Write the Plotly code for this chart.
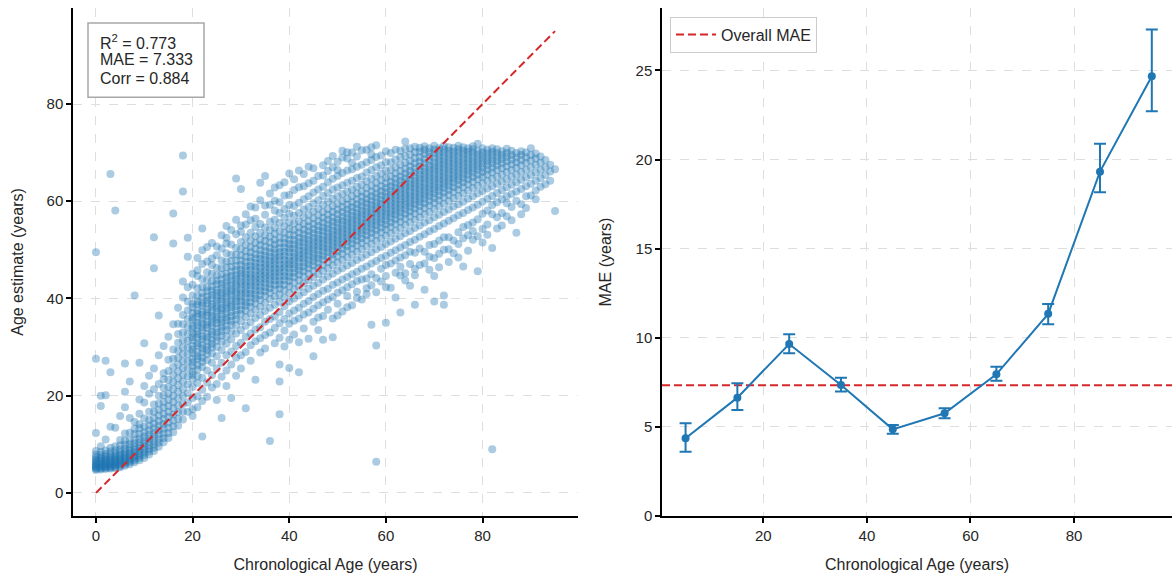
import plotly.graph_objects as go

# ---------------------------------------------------------------
# Left panel: per-sample estimates, grouped by chronological age
# ---------------------------------------------------------------
sample_ages = [
    0, 1, 2, 3, 4, 5, 6, 7, 8, 9,
    10, 11, 12, 13, 14, 15, 16, 17, 18, 19,
    20, 21, 22, 23, 24, 25, 26, 27, 28, 29,
    30, 31, 32, 33, 34, 35, 36, 37, 38, 39,
    40, 41, 42, 43, 44, 45, 46, 47, 48, 49,
    50, 51, 52, 53, 54, 55, 56, 57, 58, 59,
    60, 61, 62, 63, 64, 65, 66, 67, 68, 69,
    70, 71, 72, 73, 74, 75, 76, 77, 78, 79,
    80, 81, 82, 83, 84, 85, 86, 87, 88, 89,
    90, 91, 92, 93, 94, 95,
]

age_estimates = [
    [4.7, 4.9, 5.1, 5.3, 5.5, 5.7, 5.9, 6.1, 6.4, 6.7, 7.0, 7.4, 7.9, 8.6, 12.3, 27.6, 49.5],
    [4.8, 5.0, 5.2, 5.4, 5.6, 5.8, 6.0, 6.3, 6.6, 6.9, 7.3, 7.8, 8.4, 9.6, 17.9, 20.0],
    [4.9, 5.1, 5.3, 5.5, 5.7, 6.0, 6.2, 6.5, 6.8, 7.1, 7.5, 8.0, 8.7, 11.0, 20.1, 27.2],
    [5.0, 5.2, 5.4, 5.6, 5.9, 6.1, 6.4, 6.7, 7.0, 7.4, 7.9, 8.5, 9.3, 13.6, 24.8, 65.6],
    [5.1, 5.3, 5.6, 5.8, 6.0, 6.3, 6.6, 6.9, 7.2, 7.6, 8.1, 8.7, 9.6, 13.4, 58.1],
    [5.3, 5.5, 5.8, 6.1, 6.4, 6.7, 7.0, 7.4, 7.8, 8.3, 8.9, 9.8, 10.9, 15.8],
    [5.6, 5.9, 6.2, 6.5, 6.9, 7.2, 7.6, 8.0, 8.5, 9.1, 9.9, 10.8, 12.2, 17.6, 20.8, 26.6],
    [5.9, 6.3, 6.6, 7.0, 7.4, 7.8, 8.2, 8.7, 9.3, 10.0, 10.9, 12.4, 15.4, 22.9],
    [6.3, 6.7, 7.1, 7.5, 7.9, 8.4, 8.9, 9.5, 10.2, 11.0, 12.1, 13.2, 14.6, 40.6],
    [6.7, 7.2, 7.6, 8.1, 8.6, 9.1, 9.7, 10.4, 11.2, 12.1, 13.3, 14.1, 16.3, 19.2, 26.8],
    [7.2, 7.8, 8.3, 8.9, 9.5, 10.1, 10.8, 11.6, 12.5, 13.6, 15.3, 18.6, 22.0, 30.8],
    [7.9, 8.5, 9.1, 9.8, 10.5, 11.2, 12.0, 12.9, 13.9, 15.0, 16.7, 20.4, 24.1],
    [8.6, 9.3, 10.0, 10.8, 11.6, 12.4, 13.3, 14.3, 15.4, 16.7, 18.2, 21.3, 25.6, 46.2, 52.6],
    [9.5, 10.3, 11.1, 12.0, 12.9, 13.8, 14.8, 15.9, 17.1, 18.4, 20.0, 22.4, 28.3, 36.5],
    [10.4, 11.3, 12.2, 13.2, 14.2, 15.2, 16.3, 17.5, 18.7, 20.1, 21.6, 23.4, 24.6, 30.2],
    [11.3, 12.3, 13.4, 14.5, 15.6, 16.7, 17.9, 19.1, 20.4, 21.8, 23.3, 25.1, 27.4, 32.1],
    [12.5, 13.7, 14.9, 16.1, 17.4, 18.7, 20.0, 21.4, 22.8, 24.3, 25.9, 27.6, 29.5, 34.7, 51.3, 57.5],
    [13.8, 15.2, 16.6, 18.0, 19.4, 20.8, 22.2, 23.6, 25.0, 26.4, 27.8, 29.3, 30.9, 32.7, 34.8, 38.1],
    [15.1, 16.7, 18.3, 19.9, 21.4, 22.9, 24.3, 25.7, 27.1, 28.5, 29.9, 31.4, 33.0, 34.7, 36.6, 40.2, 43.5, 62.0, 69.4],
    [16.7, 18.6, 20.5, 22.3, 24.0, 25.6, 27.1, 28.5, 29.9, 31.3, 32.7, 34.2, 35.8, 37.5, 39.4, 42.3, 48.6, 52.5],
    [17.2, 19.5, 21.8, 23.4, 24.3, 25.0, 26.1, 26.9, 27.6, 28.8, 29.5, 30.2, 31.4, 32.0, 32.9, 33.8, 34.4, 35.5, 36.1, 37.0, 38.2, 38.9, 40.6, 42.8],
    [19.9, 22.6, 24.0, 25.4, 26.3, 27.5, 28.1, 29.0, 30.3, 30.8, 31.9, 32.7, 33.3, 34.5, 35.0, 36.2, 36.9, 37.6, 38.8, 39.4, 40.5, 42.1, 44.6, 45.8],
    [11.6, 21.2, 23.7, 25.9, 27.0, 27.8, 28.9, 29.7, 30.5, 31.6, 32.2, 33.4, 34.1, 34.9, 35.8, 36.6, 37.3, 38.5, 39.0, 40.2, 41.1, 42.4, 44.0, 47.1, 54.4],
    [22.7, 25.2, 27.3, 28.5, 29.4, 30.1, 31.2, 32.0, 32.8, 33.9, 34.6, 35.3, 36.4, 37.1, 37.8, 38.9, 39.6, 40.4, 41.5, 42.3, 43.8, 45.4, 50.6],
    [24.2, 26.8, 28.7, 29.9, 30.7, 31.5, 32.6, 33.2, 34.3, 35.0, 35.9, 36.5, 37.4, 38.3, 38.9, 40.0, 40.7, 41.6, 42.5, 43.6, 45.1, 46.9, 48.2],
    [25.6, 28.1, 30.0, 31.3, 32.1, 33.0, 33.8, 34.9, 35.6, 36.3, 37.2, 38.0, 38.7, 39.6, 40.3, 41.2, 41.8, 42.9, 43.7, 44.8, 46.3, 48.9],
    [15.4, 26.8, 29.4, 31.1, 32.4, 33.3, 34.2, 35.0, 35.8, 36.7, 37.5, 38.1, 39.0, 39.8, 40.6, 41.3, 42.2, 43.0, 43.9, 45.0, 46.2, 47.8, 50.3],
    [28.3, 30.7, 32.2, 33.5, 34.4, 35.5, 36.1, 37.0, 37.9, 38.6, 39.3, 40.2, 41.0, 41.7, 42.6, 43.4, 44.3, 45.1, 46.4, 47.6, 49.3, 52.5, 54.9],
    [19.5, 29.1, 31.6, 33.2, 34.6, 35.4, 36.4, 37.2, 38.2, 38.8, 39.7, 40.5, 41.4, 42.0, 42.9, 43.7, 44.6, 45.5, 46.5, 47.7, 49.0, 51.1],
    [30.2, 32.8, 34.5, 35.7, 36.6, 37.6, 38.4, 39.3, 40.0, 40.9, 41.6, 42.5, 43.2, 44.1, 44.8, 45.8, 46.7, 47.8, 49.0, 50.4, 53.2, 64.7],
    [30.9, 33.5, 35.3, 36.8, 37.7, 38.6, 39.5, 40.3, 41.1, 41.9, 42.8, 43.5, 44.4, 45.2, 45.9, 46.9, 47.8, 48.9, 50.1, 51.6, 53.7, 62.5],
    [17.4, 32.1, 34.4, 36.2, 37.5, 38.5, 39.2, 40.1, 41.0, 41.7, 42.6, 43.3, 44.2, 44.9, 45.8, 46.6, 47.5, 48.6, 49.7, 51.0, 52.6, 55.2],
    [32.8, 35.1, 36.9, 38.3, 39.2, 40.2, 41.0, 41.8, 42.7, 43.4, 44.3, 45.0, 45.9, 46.7, 47.6, 48.5, 49.5, 50.6, 51.9, 53.5, 56.1],
    [23.3, 33.6, 36.0, 37.7, 39.0, 40.0, 40.8, 41.7, 42.5, 43.3, 44.1, 44.8, 45.7, 46.5, 47.3, 48.2, 49.1, 50.2, 51.4, 52.8, 54.7, 58.7],
    [34.1, 36.6, 38.3, 39.7, 40.7, 41.6, 42.4, 43.3, 44.0, 44.9, 45.6, 46.4, 47.3, 48.1, 49.0, 49.9, 51.0, 52.1, 53.5, 55.3, 63.8],
    [35.2, 37.4, 39.1, 40.5, 41.5, 42.3, 43.2, 44.0, 44.8, 45.5, 46.4, 47.1, 48.0, 48.8, 49.7, 50.7, 51.8, 53.0, 54.6, 57.2, 65.2],
    [10.7, 35.8, 38.1, 39.9, 41.2, 42.1, 43.0, 43.8, 44.6, 45.4, 46.2, 47.0, 47.8, 48.6, 49.5, 50.4, 51.5, 52.7, 54.1, 55.8, 59.3],
    [36.3, 38.7, 40.4, 41.8, 42.8, 43.7, 44.5, 45.3, 46.1, 46.9, 47.7, 48.4, 49.3, 50.1, 51.1, 52.1, 53.3, 54.6, 56.2, 58.1, 60.1],
    [16.2, 22.9, 26.4, 34.9, 37.2, 39.3, 40.8, 42.0, 42.9, 43.7, 44.6, 45.4, 46.2, 47.0, 47.9, 48.7, 49.5, 50.4, 51.4, 52.5, 53.8, 55.5, 57.6, 63.3],
    [35.8, 38.4, 40.2, 41.7, 42.8, 43.8, 44.6, 45.5, 46.3, 47.1, 47.9, 48.8, 49.6, 50.5, 51.4, 52.4, 53.5, 54.9, 56.6, 58.4, 61.2],
    [25.7, 31.5, 36.9, 39.4, 41.1, 42.5, 43.6, 44.5, 45.3, 46.2, 47.0, 47.8, 48.6, 49.5, 50.3, 51.2, 52.1, 53.1, 54.3, 55.7, 57.4, 59.2, 65.7],
    [37.5, 40.0, 41.9, 43.3, 44.4, 45.3, 46.2, 47.0, 47.8, 48.6, 49.4, 50.3, 51.1, 52.0, 53.0, 54.1, 55.4, 57.0, 59.0, 62.3],
    [24.8, 31.0, 38.1, 40.6, 42.4, 43.8, 44.9, 45.8, 46.6, 47.5, 48.3, 49.1, 49.9, 50.8, 51.6, 52.5, 53.5, 54.6, 55.9, 57.6, 59.7, 66.3],
    [38.9, 41.3, 43.1, 44.5, 45.6, 46.5, 47.4, 48.2, 49.0, 49.8, 50.6, 51.5, 52.3, 53.2, 54.2, 55.3, 56.7, 58.3, 60.4, 63.1],
    [31.7, 39.5, 42.0, 43.8, 45.1, 46.2, 47.1, 47.9, 48.8, 49.6, 50.4, 51.2, 52.0, 52.9, 53.8, 54.8, 55.9, 57.2, 58.8, 61.0, 67.1],
    [28.1, 40.3, 42.6, 44.4, 45.7, 46.8, 47.7, 48.5, 49.3, 50.1, 50.9, 51.7, 52.5, 53.4, 54.3, 55.3, 56.5, 57.9, 59.6, 61.8, 64.2],
    [36.1, 40.9, 43.2, 45.0, 46.3, 47.3, 48.2, 49.0, 49.9, 50.7, 51.5, 52.3, 53.1, 54.0, 54.9, 55.9, 57.1, 58.5, 60.2, 62.4],
    [31.5, 41.6, 43.9, 45.6, 46.9, 48.0, 48.8, 49.7, 50.5, 51.3, 52.1, 52.9, 53.8, 54.6, 55.6, 56.6, 57.8, 59.3, 61.1, 63.0, 65.3],
    [42.0, 44.5, 46.2, 47.5, 48.6, 49.5, 50.3, 51.1, 51.9, 52.7, 53.5, 54.4, 55.2, 56.2, 57.2, 58.4, 59.9, 61.7, 63.9, 66.2],
    [32.0, 42.8, 45.1, 46.8, 48.1, 49.1, 50.0, 50.8, 51.6, 52.4, 53.2, 54.0, 54.9, 55.8, 56.7, 57.8, 59.0, 60.5, 62.4, 64.6, 67.0],
    [36.5, 43.3, 45.7, 47.4, 48.7, 49.7, 50.6, 51.4, 52.2, 53.0, 53.8, 54.6, 55.5, 56.3, 57.3, 58.3, 59.5, 61.0, 62.8, 65.2, 68.1],
    [43.9, 46.2, 47.9, 49.2, 50.2, 51.1, 51.9, 52.7, 53.5, 54.3, 55.1, 56.0, 56.8, 57.8, 58.8, 60.0, 61.5, 63.3, 65.8, 69.0],
    [38.2, 44.4, 46.8, 48.5, 49.8, 50.8, 51.7, 52.5, 53.3, 54.1, 54.9, 55.7, 56.5, 57.4, 58.3, 59.3, 60.5, 62.0, 63.8, 66.3, 70.1],
    [45.0, 47.3, 49.0, 50.3, 51.3, 52.2, 53.0, 53.8, 54.6, 55.4, 56.2, 57.0, 57.9, 58.8, 59.8, 61.0, 62.4, 64.2, 66.6, 67.9],
    [40.1, 45.5, 47.9, 49.6, 50.9, 51.9, 52.8, 53.6, 54.4, 55.2, 56.0, 56.8, 57.6, 58.5, 59.4, 60.4, 61.6, 63.0, 64.8, 67.1, 69.2],
    [46.1, 48.4, 50.1, 51.4, 52.4, 53.3, 54.1, 54.9, 55.7, 56.5, 57.3, 58.1, 59.0, 59.9, 60.9, 62.0, 63.4, 65.1, 67.5, 70.5],
    [42.1, 46.6, 49.0, 50.7, 52.0, 53.0, 53.9, 54.7, 55.5, 56.3, 57.1, 57.9, 58.7, 59.6, 60.5, 61.5, 62.7, 64.1, 65.9, 68.0],
    [34.6, 47.2, 49.5, 51.2, 52.5, 53.5, 54.4, 55.2, 56.0, 56.8, 57.6, 58.4, 59.2, 60.1, 61.0, 62.0, 63.2, 64.6, 66.4, 68.5, 69.6],
    [6.4, 30.3, 44.2, 47.7, 50.1, 51.8, 53.1, 54.1, 55.0, 55.8, 56.6, 57.4, 58.2, 59.0, 59.8, 60.7, 61.6, 62.6, 63.8, 65.2, 67.0, 69.1, 71.5],
    [48.3, 50.6, 52.3, 53.6, 54.6, 55.5, 56.3, 57.1, 57.9, 58.7, 59.5, 60.3, 61.2, 62.1, 63.1, 64.3, 65.7, 67.4, 69.4],
    [35.0, 42.3, 48.8, 51.2, 52.9, 54.2, 55.2, 56.1, 56.9, 57.7, 58.5, 59.3, 60.1, 60.9, 61.8, 62.7, 63.7, 64.9, 66.3, 68.0, 70.3],
    [49.4, 51.7, 53.4, 54.7, 55.7, 56.6, 57.4, 58.2, 59.0, 59.8, 60.6, 61.4, 62.2, 63.1, 64.0, 65.1, 66.4, 68.0, 69.9],
    [40.2, 49.9, 52.3, 54.0, 55.3, 56.3, 57.2, 58.0, 58.8, 59.6, 60.4, 61.2, 62.0, 62.8, 63.7, 64.6, 65.7, 67.0, 68.6, 70.6],
    [37.1, 44.7, 50.5, 52.8, 54.5, 55.8, 56.8, 57.7, 58.5, 59.3, 60.1, 60.9, 61.7, 62.5, 63.3, 64.2, 65.1, 66.2, 67.5, 69.1, 70.4],
    [45.2, 51.0, 53.4, 55.1, 56.4, 57.4, 58.3, 59.1, 59.9, 60.7, 61.5, 62.3, 63.1, 63.9, 64.8, 65.7, 66.7, 67.9, 69.3, 70.8, 72.3],
    [42.6, 51.6, 53.9, 55.6, 56.9, 57.9, 58.8, 59.6, 60.4, 61.2, 62.0, 62.8, 63.6, 64.4, 65.3, 66.2, 67.2, 68.3, 69.6, 70.9],
    [38.7, 46.1, 52.1, 54.5, 56.2, 57.5, 58.5, 59.4, 60.2, 61.0, 61.8, 62.6, 63.4, 64.2, 65.0, 65.9, 66.8, 67.8, 68.9, 70.1, 71.2],
    [52.7, 55.0, 56.7, 58.0, 59.0, 59.9, 60.7, 61.5, 62.3, 63.1, 63.9, 64.7, 65.5, 66.3, 67.2, 68.1, 69.1, 70.2, 71.0],
    [41.8, 47.2, 53.2, 55.6, 57.3, 58.6, 59.6, 60.5, 61.3, 62.1, 62.9, 63.7, 64.5, 65.3, 66.1, 66.9, 67.8, 68.7, 69.7, 70.6, 71.3],
    [48.6, 53.8, 56.1, 57.8, 59.1, 60.1, 61.0, 61.8, 62.6, 63.4, 64.2, 65.0, 65.8, 66.6, 67.4, 68.3, 69.2, 70.1, 70.9],
    [39.4, 44.6, 51.2, 54.3, 56.7, 58.4, 59.7, 60.7, 61.6, 62.4, 63.2, 64.0, 64.8, 65.6, 66.4, 67.2, 68.0, 68.9, 69.8, 70.6, 71.4],
    [49.2, 54.9, 57.2, 58.9, 60.2, 61.2, 62.1, 62.9, 63.7, 64.5, 65.3, 66.1, 66.9, 67.7, 68.5, 69.3, 70.1, 70.9],
    [38.7, 40.6, 52.6, 55.4, 57.8, 59.5, 60.8, 61.8, 62.7, 63.5, 64.3, 65.1, 65.9, 66.7, 67.5, 68.3, 69.1, 69.9, 70.7, 71.4],
    [50.1, 56.0, 58.3, 60.0, 61.3, 62.3, 63.2, 64.0, 64.8, 65.6, 66.4, 67.2, 68.0, 68.8, 69.6, 70.4, 71.1],
    [51.9, 56.5, 58.9, 60.6, 61.9, 62.9, 63.8, 64.6, 65.4, 66.2, 67.0, 67.8, 68.6, 69.4, 70.2, 71.0],
    [48.4, 53.6, 57.1, 59.4, 61.1, 62.4, 63.4, 64.3, 65.1, 65.9, 66.7, 67.5, 68.3, 69.1, 69.9, 70.7, 71.4],
    [46.6, 54.7, 57.6, 59.9, 61.6, 62.9, 63.9, 64.8, 65.6, 66.4, 67.2, 68.0, 68.8, 69.6, 70.4, 71.1],
    [53.0, 58.2, 60.5, 62.2, 63.5, 64.5, 65.4, 66.2, 67.0, 67.8, 68.6, 69.4, 70.2, 70.9],
    [52.1, 55.6, 58.7, 61.0, 62.7, 64.0, 65.0, 65.9, 66.7, 67.5, 68.3, 69.1, 69.9, 70.7, 71.3],
    [45.6, 56.3, 59.3, 61.6, 63.2, 64.5, 65.5, 66.4, 67.2, 68.0, 68.8, 69.6, 70.4, 71.8],
    [54.3, 57.4, 59.9, 62.1, 63.7, 65.0, 66.0, 66.9, 67.7, 68.5, 69.3, 70.1, 70.9],
    [55.2, 58.1, 60.5, 62.6, 64.2, 65.5, 66.5, 67.4, 68.2, 69.0, 69.8, 70.6],
    [9.0, 50.4, 57.3, 59.2, 61.1, 63.1, 64.6, 65.9, 66.9, 67.8, 68.6, 69.4, 70.2, 70.9],
    [56.7, 59.8, 61.7, 63.6, 65.1, 66.4, 67.4, 68.3, 69.1, 69.9, 70.7],
    [57.6, 60.4, 62.3, 64.0, 65.5, 66.8, 67.8, 68.7, 69.5, 70.3],
    [56.9, 59.6, 61.0, 62.9, 64.5, 66.0, 67.2, 68.2, 69.1, 69.9, 70.8],
    [58.8, 61.5, 63.4, 65.0, 66.4, 67.6, 68.6, 69.5, 70.4],
    [53.5, 60.1, 62.0, 63.9, 65.5, 66.9, 68.0, 69.0, 69.9],
    [59.4, 62.5, 64.4, 66.0, 67.4, 68.5, 69.5, 70.3],
    [61.0, 63.1, 64.9, 66.5, 67.9, 69.0, 70.0],
    [61.2, 63.6, 65.4, 67.0, 68.4, 69.5, 70.9],
    [62.2, 64.2, 65.9, 67.5, 68.8, 69.8],
    [63.0, 64.8, 66.4, 67.9, 69.2],
    [63.5, 65.4, 67.0, 68.5],
    [64.2, 66.1, 67.5],
    [58.0, 66.6],
]

# scattered samples on the fringes of the main cloud
fringe_ages = [
    20, 21, 22, 23, 24, 25, 25, 26, 27, 27, 28, 29, 29, 30, 30, 31, 32, 32,
    33, 34, 34, 35, 35, 36, 37, 37, 38, 39, 39, 40, 41, 41, 42, 43, 43, 44,
    45, 45, 46, 46, 47, 47, 48, 48, 49, 49, 50, 50, 51, 51, 52, 52, 53, 53,
    54, 54, 55, 55, 56, 56, 57, 57, 58, 59, 59, 60, 60, 61, 61, 62, 62, 63,
    63, 64, 64, 65, 65, 66, 66, 67, 67, 68, 69, 69, 70, 71, 71, 72, 73, 73,
    74, 75, 76, 77, 77, 78, 79, 80, 81, 83, 84, 86, 88, 89, 91,
    20, 21, 22, 23, 24, 25, 26, 27, 28, 29, 30, 31, 32, 33, 34, 35, 36, 37,
    38, 39, 40, 41, 42, 43, 44, 45, 46, 47, 48, 49, 50, 51, 52, 53, 54, 56, 57,
]
fringe_estimates = [
    15.8, 17.6, 18.9, 19.8, 21.7, 22.4, 19.1, 23.9, 25.2, 22.0, 26.4, 24.1, 27.8, 28.3, 25.6, 29.0, 27.2, 30.4,
    31.2, 28.9, 31.8, 32.5, 29.7, 33.0, 30.8, 33.9, 31.9, 33.4, 30.1, 34.8, 32.6, 35.4, 35.9, 33.8, 36.7, 37.1,
    35.2, 37.9, 33.5, 38.6, 36.4, 39.2, 37.7, 39.8, 35.9, 40.3, 38.9, 41.2, 37.3, 41.7, 40.5, 42.3, 38.6, 42.9,
    41.4, 43.6, 39.8, 43.9, 44.1, 40.9, 42.7, 45.0, 41.3, 43.5, 46.1, 44.6, 46.9, 42.2, 47.2, 45.3, 47.8, 46.5,
    48.4, 43.7, 48.9, 47.1, 49.6, 44.8, 49.4, 46.9, 50.3, 49.6, 45.9, 51.0, 48.3, 46.4, 51.9, 50.0, 47.5, 52.6,
    49.3, 51.2, 52.4, 49.8, 55.1, 53.9, 52.8, 51.5, 53.1, 54.4, 55.0, 56.1, 57.3, 58.6, 60.4,
    45.1, 48.3, 49.9, 47.6, 51.4, 50.7, 53.0, 51.3, 54.1, 56.2, 55.0, 57.3, 58.9, 56.4, 60.2, 59.1, 61.6, 62.8,
    59.8, 63.9, 61.3, 64.5, 62.9, 65.6, 63.7, 66.8, 65.2, 67.4, 68.3, 69.3, 66.4, 70.4, 68.8, 70.0, 71.2, 70.6, 71.1,
]

identity_line = [0, 95]

r_squared = 0.773
overall_mae = 7.333
pearson_corr = 0.884

# ---------------------------------------------------------------
# Right panel: MAE per 10-year age bin with confidence intervals
# ---------------------------------------------------------------
bin_centers = [5, 15, 25, 35, 45, 55, 65, 75, 85, 95]
bin_mae = [4.36, 6.64, 9.65, 7.35, 4.86, 5.76, 7.95, 11.34, 19.32, 24.67]
bin_ci_upper = [5.20, 7.45, 10.19, 7.76, 5.10, 6.04, 8.38, 11.90, 20.88, 27.29]
bin_ci_lower = [3.61, 5.95, 9.13, 6.98, 4.62, 5.48, 7.59, 10.76, 18.17, 22.71]

# ---------------------------------------------------------------
BLUE = "#1f77b4"
RED = "#d62728"
FONT = "Liberation Sans, Arial, sans-serif"
TEXT = "#262626"
GRID = "#dedede"

chrono_age = [a for a, ests in zip(sample_ages, age_estimates) for _ in ests]
estimated_age = [v for ests in age_estimates for v in ests]
chrono_age += fringe_ages
estimated_age += fringe_estimates

x1_range = [-4.75, 99.75]
y1_range = [-4.75, 99.75]
x2_range = [0.45, 98.9]
y2_range = [0, 28.5]

fig = go.Figure()

fig.add_trace(go.Scatter(
    x=chrono_age, y=estimated_age, mode="markers",
    marker=dict(color=BLUE, size=8, opacity=0.38, line=dict(width=0)),
    xaxis="x", yaxis="y", showlegend=False, hoverinfo="skip",
))
fig.add_trace(go.Scatter(
    x=identity_line, y=identity_line, mode="lines",
    line=dict(color=RED, width=2, dash="8px,4px"),
    xaxis="x", yaxis="y", showlegend=False,
))

err_plus = [u - m for u, m in zip(bin_ci_upper, bin_mae)]
err_minus = [m - l for m, l in zip(bin_mae, bin_ci_lower)]

fig.add_trace(go.Scatter(
    x=x2_range, y=[overall_mae, overall_mae], mode="lines",
    line=dict(color=RED, width=2, dash="8px,4px"),
    xaxis="x2", yaxis="y2", name="Overall MAE", showlegend=True,
))
fig.add_trace(go.Scatter(
    x=bin_centers, y=bin_mae, mode="lines+markers",
    line=dict(color=BLUE, width=2),
    marker=dict(color=BLUE, size=8),
    error_y=dict(type="data", symmetric=False, array=err_plus,
                 arrayminus=err_minus, color=BLUE, thickness=2, width=6),
    xaxis="x2", yaxis="y2", showlegend=False,
))

axis_common = dict(
    showline=True, linecolor="black", linewidth=1.5,
    ticks="outside", ticklen=5, tickwidth=1.5, tickcolor="black",
    showgrid=True, gridcolor=GRID, griddash="dash", gridwidth=1,
    zeroline=False, tickfont=dict(family=FONT, size=15, color=TEXT),
    mirror=False,
)
title_font = dict(family=FONT, size=16, color=TEXT)

left_end = (578 - 73) / 1099
right_start = (662 - 73) / 1099

# stats box, drawn in the left panel's domain coordinates
px_w, px_h = 578 - 73, 515 - 8
def dx(px):
    return (px - 73) / px_w
def dy(py):
    return (515 - py) / px_h

stats_lines = [
    f"R<sup>2</sup> = {r_squared:.3f}",
    f"MAE = {overall_mae:.3f}",
    f"Corr = {pearson_corr:.3f}",
]
line_centers = [41.5, 59.7, 78.0]
annotations = [
    dict(text=t, xref="x domain", yref="y domain", x=dx(98), y=dy(cy),
         xanchor="left", yanchor="middle", align="left", showarrow=False,
         font=dict(family=FONT, size=16, color=TEXT))
    for t, cy in zip(stats_lines, line_centers)
]

fig.update_layout(
    width=1172, height=579,
    margin=dict(l=73, r=0, t=8, b=63),
    paper_bgcolor="white", plot_bgcolor="white",
    font=dict(family=FONT, size=15, color=TEXT),
    xaxis=dict(axis_common, domain=[0, left_end], range=x1_range,
               tickvals=[0, 20, 40, 60, 80], anchor="y",
               title=dict(text="Chronological Age (years)", standoff=16,
                          font=title_font)),
    yaxis=dict(axis_common, domain=[0, 1], range=y1_range,
               tickvals=[0, 20, 40, 60, 80], anchor="x",
               title=dict(text="Age estimate (years)", standoff=19,
                          font=title_font)),
    xaxis2=dict(axis_common, domain=[right_start, 1], range=x2_range,
                tickvals=[20, 40, 60, 80], anchor="y2",
                title=dict(text="Chronological Age (years)", standoff=16,
                           font=title_font)),
    yaxis2=dict(axis_common, domain=[0, 1], range=y2_range,
                tickvals=[0, 5, 10, 15, 20, 25], anchor="x2",
                title=dict(text="MAE (years)", standoff=20,
                           font=title_font)),
    legend=dict(x=(670 - 73) / 1099, y=1 - (16.7 - 8) / 508,
                xanchor="left", yanchor="top",
                bordercolor="#cccccc", borderwidth=1, bgcolor="white",
                font=dict(family=FONT, size=16, color=TEXT),
                itemwidth=40, tracegroupgap=0),
    shapes=[dict(type="rect", xref="x domain", yref="y domain",
                 x0=dx(88), x1=dx(204), y0=dy(97), y1=dy(23),
                 line=dict(color="#a8a8a8", width=1.5),
                 fillcolor="white", layer="above")],
    annotations=annotations,
)

fig.write_html("out.html")
